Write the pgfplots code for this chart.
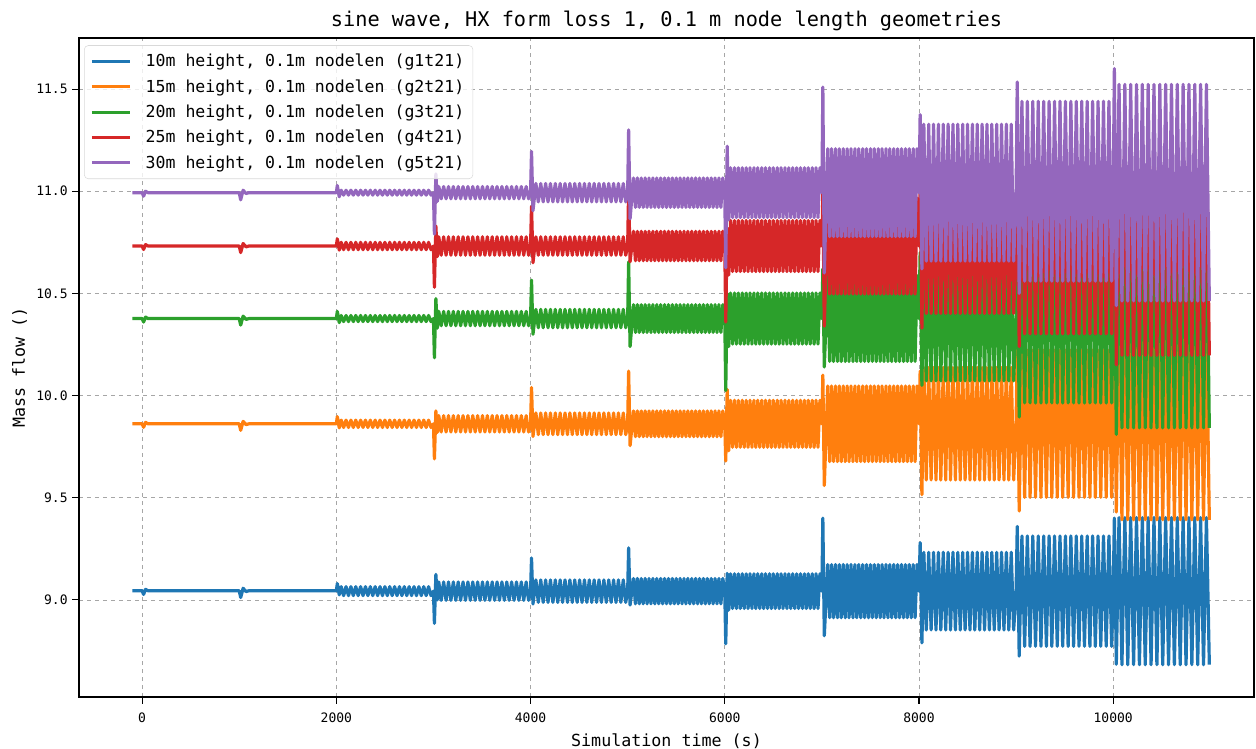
\documentclass[border=0pt]{standalone}
\usepackage{fontspec}
\setmainfont{DejaVu Sans Mono}
\usepackage{pgfplots}
\usepackage{pgfplotstable}
\pgfplotsset{compat=1.18}
\definecolor{c1}{HTML}{1F77B4}
\definecolor{c2}{HTML}{FF7F0E}
\definecolor{c3}{HTML}{2CA02C}
\definecolor{c4}{HTML}{D62728}
\definecolor{c5}{HTML}{9467BD}
\pgfplotstableread{
t b o g r p
-100 9.045 9.862 10.377 10.732 10.993
0 9.045 9.862 10.377 10.732 10.993
15 9.027 9.845 10.360 10.715 10.976
35 9.052 9.869 10.384 10.739 11.000
60 9.045 9.862 10.377 10.732 10.993
1000 9.045 9.862 10.377 10.732 10.993
1015 9.012 9.830 10.345 10.700 10.958
1040 9.057 9.874 10.389 10.744 11.005
1070 9.041 9.858 10.373 10.728 10.989
1100 9.045 9.862 10.377 10.732 10.993
2000 9.045 9.862 10.377 10.732 10.993
2010 9.080 9.897 10.412 10.767 11.028
2030 9.025 9.842 10.357 10.712 10.973
2050 9.065 9.880 10.392 10.750 11.005
2075 9.021 9.844 10.362 10.714 10.981
2100 9.065 9.880 10.392 10.750 11.005
2125 9.021 9.844 10.362 10.714 10.981
2150 9.065 9.880 10.392 10.750 11.005
2175 9.021 9.844 10.362 10.714 10.981
2200 9.065 9.880 10.392 10.750 11.005
2225 9.021 9.844 10.362 10.714 10.981
2250 9.065 9.880 10.392 10.750 11.005
2275 9.021 9.844 10.362 10.714 10.981
2300 9.065 9.880 10.392 10.750 11.005
2325 9.021 9.844 10.362 10.714 10.981
2350 9.065 9.880 10.392 10.750 11.005
2375 9.021 9.844 10.362 10.714 10.981
2400 9.065 9.880 10.392 10.750 11.005
2425 9.021 9.844 10.362 10.714 10.981
2450 9.065 9.880 10.392 10.750 11.005
2475 9.021 9.844 10.362 10.714 10.981
2500 9.065 9.880 10.392 10.750 11.005
2525 9.021 9.844 10.362 10.714 10.981
2550 9.065 9.880 10.392 10.750 11.005
2575 9.021 9.844 10.362 10.714 10.981
2600 9.065 9.880 10.392 10.750 11.005
2625 9.021 9.844 10.362 10.714 10.981
2650 9.065 9.880 10.392 10.750 11.005
2675 9.021 9.844 10.362 10.714 10.981
2700 9.065 9.880 10.392 10.750 11.005
2725 9.021 9.844 10.362 10.714 10.981
2750 9.065 9.880 10.392 10.750 11.005
2775 9.021 9.844 10.362 10.714 10.981
2800 9.065 9.880 10.392 10.750 11.005
2825 9.021 9.844 10.362 10.714 10.981
2850 9.065 9.880 10.392 10.750 11.005
2875 9.021 9.844 10.362 10.714 10.981
2900 9.065 9.880 10.392 10.750 11.005
2925 9.021 9.844 10.362 10.714 10.981
2950 9.065 9.880 10.392 10.750 11.005
2975 9.021 9.844 10.362 10.714 10.981
3000 9.043 9.862 10.377 10.732 10.993
3010 8.885 9.690 10.185 10.530 10.790
3025 9.125 9.925 10.475 10.830 11.085
3040 9.000 9.820 10.330 10.680 10.950
3055 9.088 9.902 10.412 10.777 11.023
3080 8.998 9.822 10.342 10.687 10.963
3105 9.088 9.902 10.412 10.777 11.023
3130 8.998 9.822 10.342 10.687 10.963
3155 9.088 9.902 10.412 10.777 11.023
3180 8.998 9.822 10.342 10.687 10.963
3205 9.088 9.902 10.412 10.777 11.023
3230 8.998 9.822 10.342 10.687 10.963
3255 9.088 9.902 10.412 10.777 11.023
3280 8.998 9.822 10.342 10.687 10.963
3305 9.088 9.902 10.412 10.777 11.023
3330 8.998 9.822 10.342 10.687 10.963
3355 9.088 9.902 10.412 10.777 11.023
3380 8.998 9.822 10.342 10.687 10.963
3405 9.088 9.902 10.412 10.777 11.023
3430 8.998 9.822 10.342 10.687 10.963
3455 9.088 9.902 10.412 10.777 11.023
3480 8.998 9.822 10.342 10.687 10.963
3505 9.088 9.902 10.412 10.777 11.023
3530 8.998 9.822 10.342 10.687 10.963
3555 9.088 9.902 10.412 10.777 11.023
3580 8.998 9.822 10.342 10.687 10.963
3605 9.088 9.902 10.412 10.777 11.023
3630 8.998 9.822 10.342 10.687 10.963
3655 9.088 9.902 10.412 10.777 11.023
3680 8.998 9.822 10.342 10.687 10.963
3705 9.088 9.902 10.412 10.777 11.023
3730 8.998 9.822 10.342 10.687 10.963
3755 9.088 9.902 10.412 10.777 11.023
3780 8.998 9.822 10.342 10.687 10.963
3805 9.088 9.902 10.412 10.777 11.023
3830 8.998 9.822 10.342 10.687 10.963
3855 9.088 9.902 10.412 10.777 11.023
3880 8.998 9.822 10.342 10.687 10.963
3905 9.088 9.902 10.412 10.777 11.023
3930 8.998 9.822 10.342 10.687 10.963
3955 9.088 9.902 10.412 10.777 11.023
3980 8.998 9.822 10.342 10.687 10.963
4000 9.043 9.862 10.377 10.732 10.993
4010 9.205 10.040 10.565 10.925 11.195
4025 8.980 9.800 10.300 10.650 10.905
4055 9.098 9.915 10.422 10.777 11.038
4080 8.988 9.809 10.332 10.687 10.948
4105 9.098 9.915 10.422 10.777 11.038
4130 8.988 9.809 10.332 10.687 10.948
4155 9.098 9.915 10.422 10.777 11.038
4180 8.988 9.809 10.332 10.687 10.948
4205 9.098 9.915 10.422 10.777 11.038
4230 8.988 9.809 10.332 10.687 10.948
4255 9.098 9.915 10.422 10.777 11.038
4280 8.988 9.809 10.332 10.687 10.948
4305 9.098 9.915 10.422 10.777 11.038
4330 8.988 9.809 10.332 10.687 10.948
4355 9.098 9.915 10.422 10.777 11.038
4380 8.988 9.809 10.332 10.687 10.948
4405 9.098 9.915 10.422 10.777 11.038
4430 8.988 9.809 10.332 10.687 10.948
4455 9.098 9.915 10.422 10.777 11.038
4480 8.988 9.809 10.332 10.687 10.948
4505 9.098 9.915 10.422 10.777 11.038
4530 8.988 9.809 10.332 10.687 10.948
4555 9.098 9.915 10.422 10.777 11.038
4580 8.988 9.809 10.332 10.687 10.948
4605 9.098 9.915 10.422 10.777 11.038
4630 8.988 9.809 10.332 10.687 10.948
4655 9.098 9.915 10.422 10.777 11.038
4680 8.988 9.809 10.332 10.687 10.948
4705 9.098 9.915 10.422 10.777 11.038
4730 8.988 9.809 10.332 10.687 10.948
4755 9.098 9.915 10.422 10.777 11.038
4780 8.988 9.809 10.332 10.687 10.948
4805 9.098 9.915 10.422 10.777 11.038
4830 8.988 9.809 10.332 10.687 10.948
4855 9.098 9.915 10.422 10.777 11.038
4880 8.988 9.809 10.332 10.687 10.948
4905 9.098 9.915 10.422 10.777 11.038
4930 8.988 9.809 10.332 10.687 10.948
4955 9.098 9.915 10.422 10.777 11.038
4980 8.988 9.809 10.332 10.687 10.948
5000 9.043 9.862 10.377 10.732 10.993
5010 9.255 10.120 10.655 11.010 11.300
5025 8.975 9.755 10.240 10.655 10.865
5060 9.105 9.925 10.445 10.804 11.065
5080 8.981 9.799 10.309 10.660 10.921
5100 9.105 9.925 10.445 10.804 11.065
5120 8.981 9.799 10.309 10.660 10.921
5140 9.105 9.925 10.445 10.804 11.065
5160 8.981 9.799 10.309 10.660 10.921
5180 9.105 9.925 10.445 10.804 11.065
5200 8.981 9.799 10.309 10.660 10.921
5220 9.105 9.925 10.445 10.804 11.065
5240 8.981 9.799 10.309 10.660 10.921
5260 9.105 9.925 10.445 10.804 11.065
5280 8.981 9.799 10.309 10.660 10.921
5300 9.105 9.925 10.445 10.804 11.065
5320 8.981 9.799 10.309 10.660 10.921
5340 9.105 9.925 10.445 10.804 11.065
5360 8.981 9.799 10.309 10.660 10.921
5380 9.105 9.925 10.445 10.804 11.065
5400 8.981 9.799 10.309 10.660 10.921
5420 9.105 9.925 10.445 10.804 11.065
5440 8.981 9.799 10.309 10.660 10.921
5460 9.105 9.925 10.445 10.804 11.065
5480 8.981 9.799 10.309 10.660 10.921
5500 9.105 9.925 10.445 10.804 11.065
5520 8.981 9.799 10.309 10.660 10.921
5540 9.105 9.925 10.445 10.804 11.065
5560 8.981 9.799 10.309 10.660 10.921
5580 9.105 9.925 10.445 10.804 11.065
5600 8.981 9.799 10.309 10.660 10.921
5620 9.105 9.925 10.445 10.804 11.065
5640 8.981 9.799 10.309 10.660 10.921
5660 9.105 9.925 10.445 10.804 11.065
5680 8.981 9.799 10.309 10.660 10.921
5700 9.105 9.925 10.445 10.804 11.065
5720 8.981 9.799 10.309 10.660 10.921
5740 9.105 9.925 10.445 10.804 11.065
5760 8.981 9.799 10.309 10.660 10.921
5780 9.105 9.925 10.445 10.804 11.065
5800 8.981 9.799 10.309 10.660 10.921
5820 9.105 9.925 10.445 10.804 11.065
5840 8.981 9.799 10.309 10.660 10.921
5860 9.105 9.925 10.445 10.804 11.065
5880 8.981 9.799 10.309 10.660 10.921
5900 9.105 9.925 10.445 10.804 11.065
5920 8.981 9.799 10.309 10.660 10.921
5940 9.105 9.925 10.445 10.804 11.065
5960 8.981 9.799 10.309 10.660 10.921
5980 9.105 9.925 10.445 10.804 11.065
6000 9.043 9.862 10.377 10.732 10.993
6010 8.785 9.680 10.025 10.360 10.625
6025 9.130 10.030 10.500 10.820 11.220
6040 8.950 9.730 10.240 10.590 10.860
6060 9.128 9.977 10.502 10.857 11.115
6080 8.958 9.747 10.252 10.607 10.871
6100 9.128 9.977 10.502 10.857 11.115
6120 8.958 9.747 10.252 10.607 10.871
6140 9.128 9.977 10.502 10.857 11.115
6160 8.958 9.747 10.252 10.607 10.871
6180 9.128 9.977 10.502 10.857 11.115
6200 8.958 9.747 10.252 10.607 10.871
6220 9.128 9.977 10.502 10.857 11.115
6240 8.958 9.747 10.252 10.607 10.871
6260 9.128 9.977 10.502 10.857 11.115
6280 8.958 9.747 10.252 10.607 10.871
6300 9.128 9.977 10.502 10.857 11.115
6320 8.958 9.747 10.252 10.607 10.871
6340 9.128 9.977 10.502 10.857 11.115
6360 8.958 9.747 10.252 10.607 10.871
6380 9.128 9.977 10.502 10.857 11.115
6400 8.958 9.747 10.252 10.607 10.871
6420 9.128 9.977 10.502 10.857 11.115
6440 8.958 9.747 10.252 10.607 10.871
6460 9.128 9.977 10.502 10.857 11.115
6480 8.958 9.747 10.252 10.607 10.871
6500 9.128 9.977 10.502 10.857 11.115
6520 8.958 9.747 10.252 10.607 10.871
6540 9.128 9.977 10.502 10.857 11.115
6560 8.958 9.747 10.252 10.607 10.871
6580 9.128 9.977 10.502 10.857 11.115
6600 8.958 9.747 10.252 10.607 10.871
6620 9.128 9.977 10.502 10.857 11.115
6640 8.958 9.747 10.252 10.607 10.871
6660 9.128 9.977 10.502 10.857 11.115
6680 8.958 9.747 10.252 10.607 10.871
6700 9.128 9.977 10.502 10.857 11.115
6720 8.958 9.747 10.252 10.607 10.871
6740 9.128 9.977 10.502 10.857 11.115
6760 8.958 9.747 10.252 10.607 10.871
6780 9.128 9.977 10.502 10.857 11.115
6800 8.958 9.747 10.252 10.607 10.871
6820 9.128 9.977 10.502 10.857 11.115
6840 8.958 9.747 10.252 10.607 10.871
6860 9.128 9.977 10.502 10.857 11.115
6880 8.958 9.747 10.252 10.607 10.871
6900 9.128 9.977 10.502 10.857 11.115
6920 8.958 9.747 10.252 10.607 10.871
6940 9.128 9.977 10.502 10.857 11.115
6960 8.958 9.747 10.252 10.607 10.871
6980 9.128 9.977 10.502 10.857 11.115
7000 9.043 9.862 10.377 10.732 10.993
7010 9.400 10.100 10.620 11.000 11.510
7025 8.825 9.560 10.140 10.340 10.600
7060 9.173 10.047 10.587 10.967 11.208
7080 8.913 9.677 10.167 10.497 10.778
7100 9.173 10.047 10.587 10.967 11.208
7120 8.913 9.677 10.167 10.497 10.778
7140 9.173 10.047 10.587 10.967 11.208
7160 8.913 9.677 10.167 10.497 10.778
7180 9.173 10.047 10.587 10.967 11.208
7200 8.913 9.677 10.167 10.497 10.778
7220 9.173 10.047 10.587 10.967 11.208
7240 8.913 9.677 10.167 10.497 10.778
7260 9.173 10.047 10.587 10.967 11.208
7280 8.913 9.677 10.167 10.497 10.778
7300 9.173 10.047 10.587 10.967 11.208
7320 8.913 9.677 10.167 10.497 10.778
7340 9.173 10.047 10.587 10.967 11.208
7360 8.913 9.677 10.167 10.497 10.778
7380 9.173 10.047 10.587 10.967 11.208
7400 8.913 9.677 10.167 10.497 10.778
7420 9.173 10.047 10.587 10.967 11.208
7440 8.913 9.677 10.167 10.497 10.778
7460 9.173 10.047 10.587 10.967 11.208
7480 8.913 9.677 10.167 10.497 10.778
7500 9.173 10.047 10.587 10.967 11.208
7520 8.913 9.677 10.167 10.497 10.778
7540 9.173 10.047 10.587 10.967 11.208
7560 8.913 9.677 10.167 10.497 10.778
7580 9.173 10.047 10.587 10.967 11.208
7600 8.913 9.677 10.167 10.497 10.778
7620 9.173 10.047 10.587 10.967 11.208
7640 8.913 9.677 10.167 10.497 10.778
7660 9.173 10.047 10.587 10.967 11.208
7680 8.913 9.677 10.167 10.497 10.778
7700 9.173 10.047 10.587 10.967 11.208
7720 8.913 9.677 10.167 10.497 10.778
7740 9.173 10.047 10.587 10.967 11.208
7760 8.913 9.677 10.167 10.497 10.778
7780 9.173 10.047 10.587 10.967 11.208
7800 8.913 9.677 10.167 10.497 10.778
7820 9.173 10.047 10.587 10.967 11.208
7840 8.913 9.677 10.167 10.497 10.778
7860 9.173 10.047 10.587 10.967 11.208
7880 8.913 9.677 10.167 10.497 10.778
7900 9.173 10.047 10.587 10.967 11.208
7920 8.913 9.677 10.167 10.497 10.778
7940 9.173 10.047 10.587 10.967 11.208
7960 8.913 9.677 10.167 10.497 10.778
7980 9.173 10.047 10.587 10.967 11.208
8000 9.043 9.862 10.377 10.732 10.993
8012 9.280 10.120 10.700 11.050 11.375
8030 8.790 9.515 10.050 10.330 10.620
8050 9.233 10.137 10.682 11.062 11.328
8075 8.853 9.587 10.072 10.402 10.658
8100 9.233 10.137 10.682 11.062 11.328
8125 8.853 9.587 10.072 10.402 10.658
8150 9.233 10.137 10.682 11.062 11.328
8175 8.853 9.587 10.072 10.402 10.658
8200 9.233 10.137 10.682 11.062 11.328
8225 8.853 9.587 10.072 10.402 10.658
8250 9.233 10.137 10.682 11.062 11.328
8275 8.853 9.587 10.072 10.402 10.658
8300 9.233 10.137 10.682 11.062 11.328
8325 8.853 9.587 10.072 10.402 10.658
8350 9.233 10.137 10.682 11.062 11.328
8375 8.853 9.587 10.072 10.402 10.658
8400 9.233 10.137 10.682 11.062 11.328
8425 8.853 9.587 10.072 10.402 10.658
8450 9.233 10.137 10.682 11.062 11.328
8475 8.853 9.587 10.072 10.402 10.658
8500 9.233 10.137 10.682 11.062 11.328
8525 8.853 9.587 10.072 10.402 10.658
8550 9.233 10.137 10.682 11.062 11.328
8575 8.853 9.587 10.072 10.402 10.658
8600 9.233 10.137 10.682 11.062 11.328
8625 8.853 9.587 10.072 10.402 10.658
8650 9.233 10.137 10.682 11.062 11.328
8675 8.853 9.587 10.072 10.402 10.658
8700 9.233 10.137 10.682 11.062 11.328
8725 8.853 9.587 10.072 10.402 10.658
8750 9.233 10.137 10.682 11.062 11.328
8775 8.853 9.587 10.072 10.402 10.658
8800 9.233 10.137 10.682 11.062 11.328
8825 8.853 9.587 10.072 10.402 10.658
8850 9.233 10.137 10.682 11.062 11.328
8875 8.853 9.587 10.072 10.402 10.658
8900 9.233 10.137 10.682 11.062 11.328
8925 8.853 9.587 10.072 10.402 10.658
8950 9.233 10.137 10.682 11.062 11.328
8975 8.853 9.587 10.072 10.402 10.658
9000 9.043 9.862 10.377 10.732 10.993
9012 9.360 10.250 10.820 11.200 11.535
9032 8.725 9.435 9.895 10.240 10.500
9060 9.313 10.222 10.790 11.162 11.440
9088 8.773 9.502 9.964 10.302 10.560
9116 9.313 10.222 10.790 11.162 11.440
9144 8.773 9.502 9.964 10.302 10.560
9172 9.313 10.222 10.790 11.162 11.440
9200 8.773 9.502 9.964 10.302 10.560
9228 9.313 10.222 10.790 11.162 11.440
9256 8.773 9.502 9.964 10.302 10.560
9284 9.313 10.222 10.790 11.162 11.440
9312 8.773 9.502 9.964 10.302 10.560
9340 9.313 10.222 10.790 11.162 11.440
9368 8.773 9.502 9.964 10.302 10.560
9396 9.313 10.222 10.790 11.162 11.440
9424 8.773 9.502 9.964 10.302 10.560
9452 9.313 10.222 10.790 11.162 11.440
9480 8.773 9.502 9.964 10.302 10.560
9508 9.313 10.222 10.790 11.162 11.440
9536 8.773 9.502 9.964 10.302 10.560
9564 9.313 10.222 10.790 11.162 11.440
9592 8.773 9.502 9.964 10.302 10.560
9620 9.313 10.222 10.790 11.162 11.440
9648 8.773 9.502 9.964 10.302 10.560
9676 9.313 10.222 10.790 11.162 11.440
9704 8.773 9.502 9.964 10.302 10.560
9732 9.313 10.222 10.790 11.162 11.440
9760 8.773 9.502 9.964 10.302 10.560
9788 9.313 10.222 10.790 11.162 11.440
9816 8.773 9.502 9.964 10.302 10.560
9844 9.313 10.222 10.790 11.162 11.440
9872 8.773 9.502 9.964 10.302 10.560
9900 9.313 10.222 10.790 11.162 11.440
9928 8.773 9.502 9.964 10.302 10.560
9956 9.313 10.222 10.790 11.162 11.440
9984 8.773 9.502 9.964 10.302 10.560
10000 9.043 9.862 10.377 10.732 10.993
10012 9.400 10.330 10.910 11.270 11.600
10032 8.685 9.430 9.810 10.150 10.440
10060 9.403 10.332 10.912 11.267 11.523
10090 8.683 9.392 9.842 10.197 10.463
10120 9.403 10.332 10.912 11.267 11.523
10150 8.683 9.392 9.842 10.197 10.463
10180 9.403 10.332 10.912 11.267 11.523
10210 8.683 9.392 9.842 10.197 10.463
10240 9.403 10.332 10.912 11.267 11.523
10270 8.683 9.392 9.842 10.197 10.463
10300 9.403 10.332 10.912 11.267 11.523
10330 8.683 9.392 9.842 10.197 10.463
10360 9.403 10.332 10.912 11.267 11.523
10390 8.683 9.392 9.842 10.197 10.463
10420 9.403 10.332 10.912 11.267 11.523
10450 8.683 9.392 9.842 10.197 10.463
10480 9.403 10.332 10.912 11.267 11.523
10510 8.683 9.392 9.842 10.197 10.463
10540 9.403 10.332 10.912 11.267 11.523
10570 8.683 9.392 9.842 10.197 10.463
10600 9.403 10.332 10.912 11.267 11.523
10630 8.683 9.392 9.842 10.197 10.463
10660 9.403 10.332 10.912 11.267 11.523
10690 8.683 9.392 9.842 10.197 10.463
10720 9.403 10.332 10.912 11.267 11.523
10750 8.683 9.392 9.842 10.197 10.463
10780 9.403 10.332 10.912 11.267 11.523
10810 8.683 9.392 9.842 10.197 10.463
10840 9.403 10.332 10.912 11.267 11.523
10870 8.683 9.392 9.842 10.197 10.463
10900 9.403 10.332 10.912 11.267 11.523
10930 8.683 9.392 9.842 10.197 10.463
10960 9.403 10.332 10.912 11.267 11.523
10990 8.683 9.392 9.842 10.197 10.463
}\datatable

\begin{document}
\begin{tikzpicture}
\begin{axis}[
  name=ax, at={(0,0)}, anchor=south west,
  scale only axis, width=881.25pt, height=494.25pt,
  xmin=-650, xmax=11450, ymin=8.525, ymax=11.75,
  xtick={0,2000,4000,6000,8000,10000},
  ytick={9,9.5,10,10.5,11,11.5},
  scaled x ticks=false, scaled y ticks=false,
  xtick pos=left, ytick pos=left,
  tick align=outside, major tick length=5pt,
  tick style={black, line width=0.8pt},
  axis line style={line width=1pt},
  grid=major, major grid style={dashed, gray!70, line width=0.5pt},
  /pgf/number format/assume math mode=true,
  xticklabel style={/pgf/number format/1000 sep={}, font=\fontsize{9.75}{11}\selectfont, yshift=-3pt},
  yticklabel style={/pgf/number format/fixed, /pgf/number format/fixed zerofill, /pgf/number format/precision=1, font=\fontsize{9.75}{11}\selectfont},
  xlabel={Simulation time (s)}, ylabel={Mass flow ()},
  label style={font=\fontsize{12.5}{14}\selectfont},
  xlabel style={yshift=-2pt},
  title={sine wave, HX form loss 1, 0.1 m node length geometries},
  title style={font=\fontsize{15.2}{17}\selectfont, yshift=-4.5pt},
  legend cell align=left,
  legend style={at={(0.0043,0.989)}, anchor=north west, draw=gray!30, rounded corners=3pt,
    fill=white, fill opacity=0.8, text opacity=1, font=\fontsize{12.4}{14}\selectfont,
    row sep=4pt, inner sep=4.5pt,
    /tikz/every odd column/.append style={column sep=8.75pt}},
  legend image code/.code={\draw[#1, line width=2.3pt] (0pt,0pt) -- (28.5pt,0pt);},
  every axis plot/.append style={line width=2.4pt, line join=round},
]
\addplot[c1] table[x=t, y=b] {\datatable};
\addlegendentry{10m height, 0.1m nodelen (g1t21)}
\addplot[c2] table[x=t, y=o] {\datatable};
\addlegendentry{15m height, 0.1m nodelen (g2t21)}
\addplot[c3] table[x=t, y=g] {\datatable};
\addlegendentry{20m height, 0.1m nodelen (g3t21)}
\addplot[c4] table[x=t, y=r] {\datatable};
\addlegendentry{25m height, 0.1m nodelen (g4t21)}
\addplot[c5] table[x=t, y=p] {\datatable};
\addlegendentry{30m height, 0.1m nodelen (g5t21)}
\end{axis}
\pgfresetboundingbox
\path (-59.25pt,-39pt) rectangle (882.75pt,522.75pt);
\end{tikzpicture}
\end{document}
